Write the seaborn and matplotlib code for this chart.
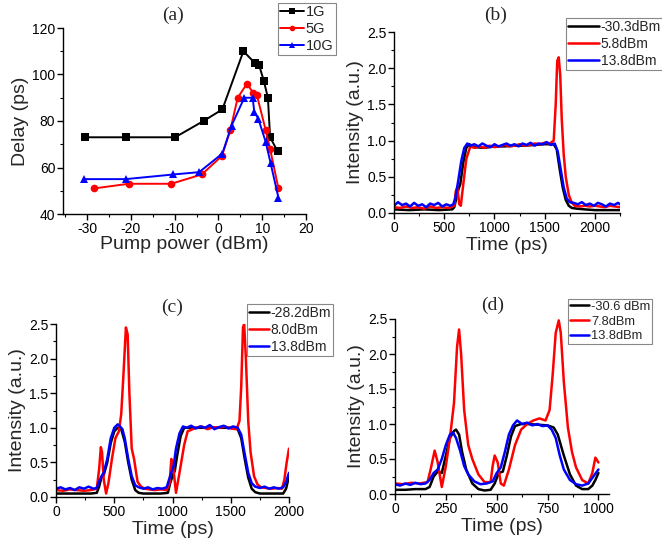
import matplotlib
matplotlib.use("Agg")
import matplotlib.pyplot as plt
from matplotlib.ticker import MultipleLocator, FormatStrFormatter
import seaborn as sns
import pandas as pd

# ---------------- Panel (a): delay vs pump power ----------------
a_1g_x = [-30.4, -21.1, -9.9, -3.4, 0.9, 5.7, 8.3, 9.3, 10.4, 11.3, 11.8, 13.5]
a_1g_y = [73, 73, 73, 80, 85, 110, 105, 104, 97, 90, 73, 67]
a_5g_x = [-28.4, -20.5, -10.8, -3.8, 0.8, 2.7, 4.4, 6.5, 8.0, 8.8, 10.8, 11.8, 13.7]
a_5g_y = [51, 53, 53, 57, 65, 76, 90, 96, 92, 91, 76, 68, 51]
a_10g_x = [-30.8, -21.2, -10.3, -4.4, 0.9, 3.0, 5.9, 7.8, 8.2, 9.1, 10.8, 11.9, 13.7]
a_10g_y = [55, 55, 57, 58, 66, 78, 90, 90, 84, 81, 71, 62, 47]
a_labels = ["1G", "5G", "10G"]

# ---------------- Panel (b) ----------------
b_labels = ["-30.3dBm", "5.8dBm", "13.8dBm"]
b_black_t = [0, 150, 300, 450, 580, 600, 620, 640, 660, 690, 720, 750, 800, 900, 1000, 1100, 1200,
             1300, 1400, 1500, 1590, 1620, 1650, 1680, 1710, 1740, 1770, 1820, 1900, 2000, 2100, 2250]
b_black_v = [.05, .04, .05, .04, .05, .08, .20, .32, .40, .70, .90, .95, .91, .90, .92, .92, .93,
             .93, .94, .95, .95, .88, .60, .35, .18, .10, .07, .06, .05, .04, .04, .04]
b_red_t = [0, 60, 120, 180, 240, 300, 360, 420, 480, 540, 600, 615, 630, 650, 665, 690, 720, 760,
           800, 850, 900, 950, 1000, 1050, 1100, 1150, 1200, 1250, 1300, 1350, 1400, 1450, 1500,
           1550, 1590, 1610, 1625, 1640, 1655, 1670, 1690, 1710, 1740, 1770, 1800, 1850, 1900,
           1950, 2000, 2050, 2100, 2150, 2200, 2250]
b_red_v = [.08, .07, .09, .07, .08, .06, .09, .07, .08, .07, .10, .30, .35, .12, .10, .40, .75, .92,
           .90, .92, .90, .93, .91, .92, .94, .92, .93, .95, .93, .94, .96, .95, .97,
           .96, 1.0, 1.5, 2.1, 2.15, 1.9, 1.3, .80, .50, .25, .14, .10, .09, .10,
           .09, .10, .09, .08, .10, .09, .08]
b_blue_t = [0, 40, 80, 120, 160, 200, 240, 280, 320, 360, 400, 440, 480, 520, 560, 590,
            610, 640, 670, 700, 730, 760,
            800, 840, 880, 920, 960, 1000, 1040, 1080, 1120, 1160, 1200, 1240, 1280, 1320, 1360,
            1400, 1440, 1480, 1520, 1560, 1600,
            1630, 1660, 1690, 1720, 1750,
            1790, 1830, 1870, 1910, 1950, 1990, 2030, 2070, 2110, 2150, 2190, 2230, 2250]
b_blue_v = [.10, .15, .11, .13, .09, .14, .10, .12, .08, .13, .11, .14, .09, .12, .10, .12,
            .20, .45, .72, .90, .96, .93,
            .95, .92, .96, .93, .91, .95, .92, .94, .96, .93, .95, .92, .96, .94, .97,
            .93, .96, .95, .98, .94, .96,
            .85, .60, .35, .20, .15,
            .14, .12, .15, .11, .13, .10, .14, .12, .09, .13, .11, .14, .12]

# ---------------- Panel (c) ----------------
c_labels = ["-28.2dBm", "8.0dBm", "13.8dBm"]
c_black_t = [0, 100, 200, 300, 350, 370, 390, 410, 440, 470, 500, 530, 560, 590, 620, 650, 680, 710,
             750, 800, 900, 960, 980, 1000, 1020, 1040, 1070, 1100, 1130, 1200, 1300, 1400, 1500,
             1560, 1590, 1620, 1650, 1680, 1710, 1750, 1800, 1900, 1950, 1975, 2000]
c_black_v = [.05, .05, .05, .05, .06, .15, .28, .32, .50, .78, .95, 1.0, .98, .80, .50, .25, .10, .06,
             .05, .05, .05, .06, .20, .30, .38, .60, .88, 1.0, 1.0, 1.0, 1.0, 1.0, 1.0,
             .98, .85, .55, .28, .12, .07, .05, .05, .05, .05, .12, .30]
c_red_t = [0, 60, 120, 180, 240, 300, 350, 370, 385, 395, 410, 430, 450, 480, 510, 540, 560, 580,
           600, 615, 630, 650, 670, 700, 730, 760, 800, 850, 900, 950, 975, 990, 1005, 1030, 1060,
           1100, 1130, 1160, 1200, 1250, 1300, 1350, 1400, 1450, 1500, 1550, 1575, 1590, 1605,
           1615, 1630, 1650, 1670, 1700, 1730, 1760, 1800, 1850, 1900, 1940, 1960, 1980, 2000]
c_red_v = [.10, .09, .11, .10, .09, .10, .12, .40, .72, .65, .25, .05, .20, .55, .85, .95, 1.2, 1.8,
           2.45, 2.35, 1.5, .70, .55, .22, .15, .12, .11, .10, .11, .10, .20, .55, .45, .06, .35,
           .75, .95, .97, 1.0, 1.02, .98, 1.01, 1.0, 1.02, .99, .98, 1.1, 1.6, 2.45,
           2.5, 2.0, 1.1, .65, .30, .18, .14, .13, .12, .13, .12, .25, .50, .70]
c_blue_t = [0, 40, 80, 120, 160, 200, 240, 280, 320, 350, 370, 390, 410, 440, 470, 500, 530, 550,
            570, 590, 620, 650, 680, 710, 750, 790, 830, 870, 910, 950, 970, 990, 1010, 1030, 1060,
            1090, 1120, 1160, 1200, 1240, 1280, 1320, 1360, 1400, 1440, 1480, 1520, 1560,
            1590, 1620, 1650, 1680, 1710, 1750, 1790, 1830, 1870, 1910, 1950, 1975, 2000]
c_blue_v = [.12, .14, .11, .13, .10, .14, .12, .15, .12, .13, .22, .30, .35, .55, .85, 1.0, 1.05, 1.02,
            .98, .85, .55, .30, .17, .14, .12, .14, .11, .13, .12, .14, .25, .35, .45, .70, .92,
            1.02, 1.0, 1.03, .99, 1.02, 1.0, 1.04, .98, 1.01, 1.03, .99, 1.02, 1.0,
            .90, .62, .35, .20, .15, .13, .15, .12, .14, .12, .14, .22, .35]

# ---------------- Panel (d) ----------------
d_labels = ["-30.6 dBm", "7.8dBm", "13.8dBm"]
d_black_t = [0, 50, 100, 150, 170, 190, 210, 230, 250, 270, 290, 300, 315, 330, 350, 380, 410, 440,
             470, 490, 510, 530, 550, 570, 590, 620, 650, 700, 750, 780, 800, 830, 860, 890, 920,
             950, 970, 985, 1000]
d_black_v = [.06, .06, .07, .07, .10, .25, .32, .30, .55, .80, .90, .92, .85, .60, .35, .15, .07, .05,
             .06, .15, .30, .32, .55, .82, .97, 1.0, 1.0, .99, .98, .95, .85, .55, .28, .12, .07,
             .07, .12, .20, .30]
d_red_t = [0, 40, 80, 120, 160, 175, 195, 210, 230, 250, 270, 290, 305, 315, 325, 340, 360, 380,
           410, 440, 470, 480, 490, 505, 520, 535, 560, 590, 620, 650, 680, 710, 740, 760, 775,
           790, 805, 815, 830, 850, 870, 890, 920, 950, 970, 985, 1000]
d_red_v = [.15, .14, .16, .15, .17, .35, .62, .45, .10, .40, .80, 1.3, 2.1, 2.35, 2.0, 1.2, .70, .50,
           .28, .17, .17, .40, .55, .45, .15, .12, .35, .70, .92, 1.0, 1.05, 1.08, 1.05, 1.2, 1.7,
           2.3, 2.48, 2.3, 1.6, .95, .60, .38, .20, .15, .30, .52, .45]
d_blue_t = [0, 25, 50, 75, 100, 125, 150, 170, 190, 210, 230, 250, 270, 285, 300, 320, 340, 360,
            390, 420, 450, 480, 500, 520, 540, 560, 580, 600, 625, 650, 675, 700, 725, 750, 770,
            790, 810, 830, 860, 890, 920, 950, 975, 1000]
d_blue_v = [.14, .12, .15, .13, .16, .14, .15, .20, .30, .35, .50, .70, .85, .88, .80, .62, .40, .28,
            .18, .14, .15, .18, .30, .38, .60, .85, .98, 1.05, 1.0, 1.02, .98, 1.0, .97, .98, .92,
            .80, .55, .35, .20, .14, .12, .15, .25, .35]

BLACK, RED, BLUE = "#000000", "#ff0000", "#0000ff"

sns.set_style("ticks")
plt.rcParams["font.family"] = ["Liberation Sans", "DejaVu Sans"]
plt.rcParams["axes.unicode_minus"] = False

W, H = 662, 543
fig = plt.figure(figsize=(W / 100, H / 100), dpi=100)


def rect(l, t, r, b):
    return [l / W, 1 - b / H, (r - l) / W, (b - t) / H]


def style(ax):
    for s in ["top", "right"]:
        ax.spines[s].set_visible(False)
    for s in ["left", "bottom"]:
        ax.spines[s].set_color("black")
        ax.spines[s].set_linewidth(1.0)
    ax.tick_params(which="major", direction="out", length=4, width=1, labelsize=10,
                   colors="black", pad=1.5)
    ax.tick_params(which="minor", direction="out", length=2.5, width=0.8, colors="black")


def legend(ax, anchor, handlelen, fs=10):
    lg = ax.legend(loc="upper left", bbox_to_anchor=anchor, bbox_transform=fig.transFigure,
                   fontsize=fs, frameon=True, fancybox=False, framealpha=1,
                   edgecolor="#888888", borderpad=0.15, labelspacing=0.2,
                   handlelength=handlelen, handletextpad=0.15, borderaxespad=0)
    lg.get_frame().set_linewidth(0.8)
    for ln in lg.get_lines():
        ln.set_linewidth(1.8)
    return lg


# ----- (a)
ax = fig.add_axes(rect(63, 28, 306, 214))
for xs, ys, c, m, lab in [(a_1g_x, a_1g_y, BLACK, "s", a_labels[0]),
                          (a_5g_x, a_5g_y, RED, "o", a_labels[1]),
                          (a_10g_x, a_10g_y, BLUE, "^", a_labels[2])]:
    sns.lineplot(x=xs, y=ys, ax=ax, color=c, marker=m, markersize=5.5, markeredgewidth=0,
                 linewidth=1.4, sort=False, estimator=None, label=lab)
ax.set_xlim(-35.5, 20)
ax.set_ylim(40, 120)
ax.xaxis.set_major_locator(MultipleLocator(10))
ax.xaxis.set_minor_locator(MultipleLocator(5))
ax.yaxis.set_major_locator(MultipleLocator(20))
ax.yaxis.set_minor_locator(MultipleLocator(10))
ax.set_xlabel("Pump power (dBm)", fontsize=14, labelpad=0)
ax.set_ylabel("Delay (ps)", fontsize=14, labelpad=2)
style(ax)
lg = legend(ax, (278 / W, 1 - 3 / H), 1.6, fs=10.5)
for ln in lg.get_lines():
    ln.set_linewidth(1.4)
    ln.set_markersize(4)
fig.text(173 / W, 1 - 15 / H, "(a)", ha="center", va="center", fontsize=14,
         family=["Liberation Serif", "DejaVu Serif"])


def wave_panel(r, series, labels, xmax, xmajor, anchor, hl, fs, title, tpos):
    ax = fig.add_axes(rect(*r))
    for (tt, vv, c), lab in zip(series, labels):
        sns.lineplot(x=tt, y=vv, ax=ax, color=c, linewidth=1.8, sort=False,
                     estimator=None, label=lab)
    ax.set_xlim(0, xmax)
    ax.set_ylim(0, 2.5)
    ax.xaxis.set_major_locator(MultipleLocator(xmajor))
    ax.xaxis.set_minor_locator(MultipleLocator(xmajor / 2))
    ax.yaxis.set_major_locator(MultipleLocator(0.5))
    ax.yaxis.set_minor_locator(MultipleLocator(0.25))
    ax.yaxis.set_major_formatter(FormatStrFormatter("%.1f"))
    ax.set_xlabel("Time (ps)", fontsize=14, labelpad=2)
    ax.set_ylabel("Intensity (a.u.)", fontsize=14, labelpad=2)
    style(ax)
    legend(ax, anchor, hl, fs)
    fig.text(tpos[0] / W, 1 - tpos[1] / H, title, ha="center", va="center", fontsize=14,
             family=["Liberation Serif", "DejaVu Serif"])
    return ax


wave_panel((394, 32, 620, 213),
           [(b_black_t, b_black_v, BLACK), (b_red_t, b_red_v, RED), (b_blue_t, b_blue_v, BLUE)],
           b_labels, 2250, 500, (566 / W, 1 - 18 / H), 2.2, 10, "(b)", (496, 15))
wave_panel((56, 324, 289, 497),
           [(c_black_t, c_black_v, BLACK), (c_red_t, c_red_v, RED), (c_blue_t, c_blue_v, BLUE)],
           c_labels, 2000, 500, (247 / W, 1 - 304 / H), 1.4, 10, "(c)", (172, 307))
wave_panel((395, 319, 609, 494),
           [(d_black_t, d_black_v, BLACK), (d_red_t, d_red_v, RED), (d_blue_t, d_blue_v, BLUE)],
           d_labels, 1052, 250, (568 / W, 1 - 299 / H), 1.5, 9.3, "(d)", (493, 305))

fig.savefig("out.png", dpi=100)
